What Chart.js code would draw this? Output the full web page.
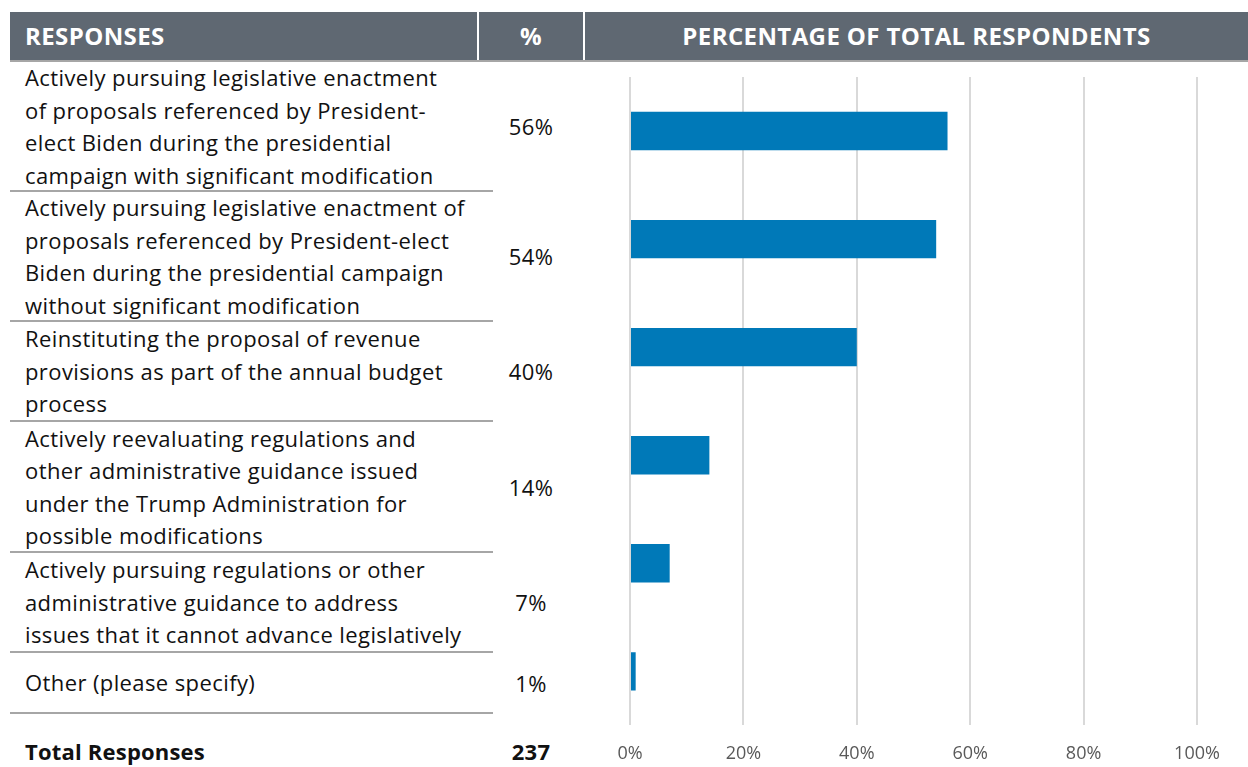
<!DOCTYPE html>
<html>
<head>
<meta charset="utf-8">
<script src="https://cdn.jsdelivr.net/npm/chart.js@4/dist/chart.umd.min.js"></script>
<style>
    body { margin: 0; width: 1248px; height: 767px; background: #fff; font-family: "Open Sans", sans-serif; overflow: hidden; position: relative; }
    .head { position: absolute; top: 12px; left: 10px; width: 1238px; height: 48px; background: #5f6872; border-bottom: 2px solid #a6a6a6; color: #fff; font-weight: bold; font-size: 24px; letter-spacing: 0.4px; }
    .head div { position: absolute; top: 0; line-height: 48px; }
    .sep { position: absolute; top: 0; width: 2px; height: 48px; background: #fff; }
    .row { position: absolute; left: 10px; width: 483px; border-bottom: 2px solid #a6a6a6; color: #111; font-size: 22px; letter-spacing: 0.4px; }
    .row .txt { position: absolute; left: 15px; top: 0; bottom: 0; display: flex; align-items: center; white-space: pre-line; line-height: 32.5px; }
    .row .pct { position: absolute; left: 490px; width: 62px; text-align: center; top: 0; bottom: 0; display: flex; align-items: center; justify-content: center; }
    .total { position: absolute; top: 736px; font-weight: bold; font-size: 22px; color: #111; letter-spacing: 0.2px; }
    #chartBox { position: absolute; left: 590px; top: 62px; width: 658px; height: 725px; }
</style>
</head>
<body>

<div class="head">
    <div style="left:15px">RESPONSES</div>
    <div class="sep" style="left:467px"></div>
    <div style="left:468px;width:106px;text-align:center">%</div>
    <div class="sep" style="left:573px"></div>
    <div style="left:575px;width:663px;text-align:center">PERCENTAGE OF TOTAL RESPONDENTS</div>
</div>

<div id="table"></div>
<div class="total" style="left:25px">Total Responses</div>
<div class="total" id="totalVal" style="left:500px;width:62px;text-align:center"></div>

<div id="chartBox"><canvas id="surveyChart"></canvas></div>

<script>
const categories = [
    "Actively pursuing legislative enactment\nof proposals referenced by President-\nelect Biden during the presidential\ncampaign with significant modification",
    "Actively pursuing legislative enactment of\nproposals referenced by President-elect\nBiden during the presidential campaign\nwithout significant modification",
    "Reinstituting the proposal of revenue\nprovisions as part of the annual budget\nprocess",
    "Actively reevaluating regulations and\nother administrative guidance issued\nunder the Trump Administration for\npossible modifications",
    "Actively pursuing regulations or other\nadministrative guidance to address\nissues that it cannot advance legislatively",
    "Other (please specify)"
];
const values = [56, 54, 40, 14, 7, 1];
const tickLabels = ["0%", "20%", "40%", "60%", "80%", "100%"];
const totalResponses = 237;

/* TABLE */

const rowTops = [62, 192, 322, 422, 553, 653];
const rowBottoms = [192, 322, 422, 553, 653, 714];
const table = document.getElementById("table");

categories.forEach(function (cat, i) {
    const row = document.createElement("div");
    row.className = "row";
    row.style.top = rowTops[i] + "px";
    row.style.height = (rowBottoms[i] - rowTops[i] - 2) + "px";

    const txt = document.createElement("div");
    txt.className = "txt";
    txt.textContent = cat;

    const pct = document.createElement("div");
    pct.className = "pct";
    pct.textContent = values[i] + "%";

    row.appendChild(txt);
    row.appendChild(pct);
    table.appendChild(row);
});

document.getElementById("totalVal").innerText = totalResponses;

/* CHART */

new Chart(document.getElementById("surveyChart"), {
    type: "bar",
    data: {
        labels: categories,
        datasets: [{
            data: values,
            backgroundColor: "#0079b8",
            categoryPercentage: 1,
            barPercentage: 0.355
        }]
    },
    options: {
        indexAxis: "y",
        responsive: true,
        maintainAspectRatio: false,
        animation: false,
        layout: { padding: { left: 40, right: 51, top: 15, bottom: 4 } },
        plugins: { legend: { display: false }, tooltip: { enabled: false } },
        scales: {
            x: {
                min: 0,
                max: 100,
                ticks: {
                    stepSize: 20,
                    padding: 18,
                    color: "#595959",
                    font: { family: "Open Sans", size: 18 },
                    callback: function (v, idx) { return tickLabels[idx]; }
                },
                grid: { color: "#d9d9d9", lineWidth: 2, drawTicks: false },
                border: { display: false }
            },
            y: {
                display: false
            }
        }
    }
});
</script>
</body>
</html>
